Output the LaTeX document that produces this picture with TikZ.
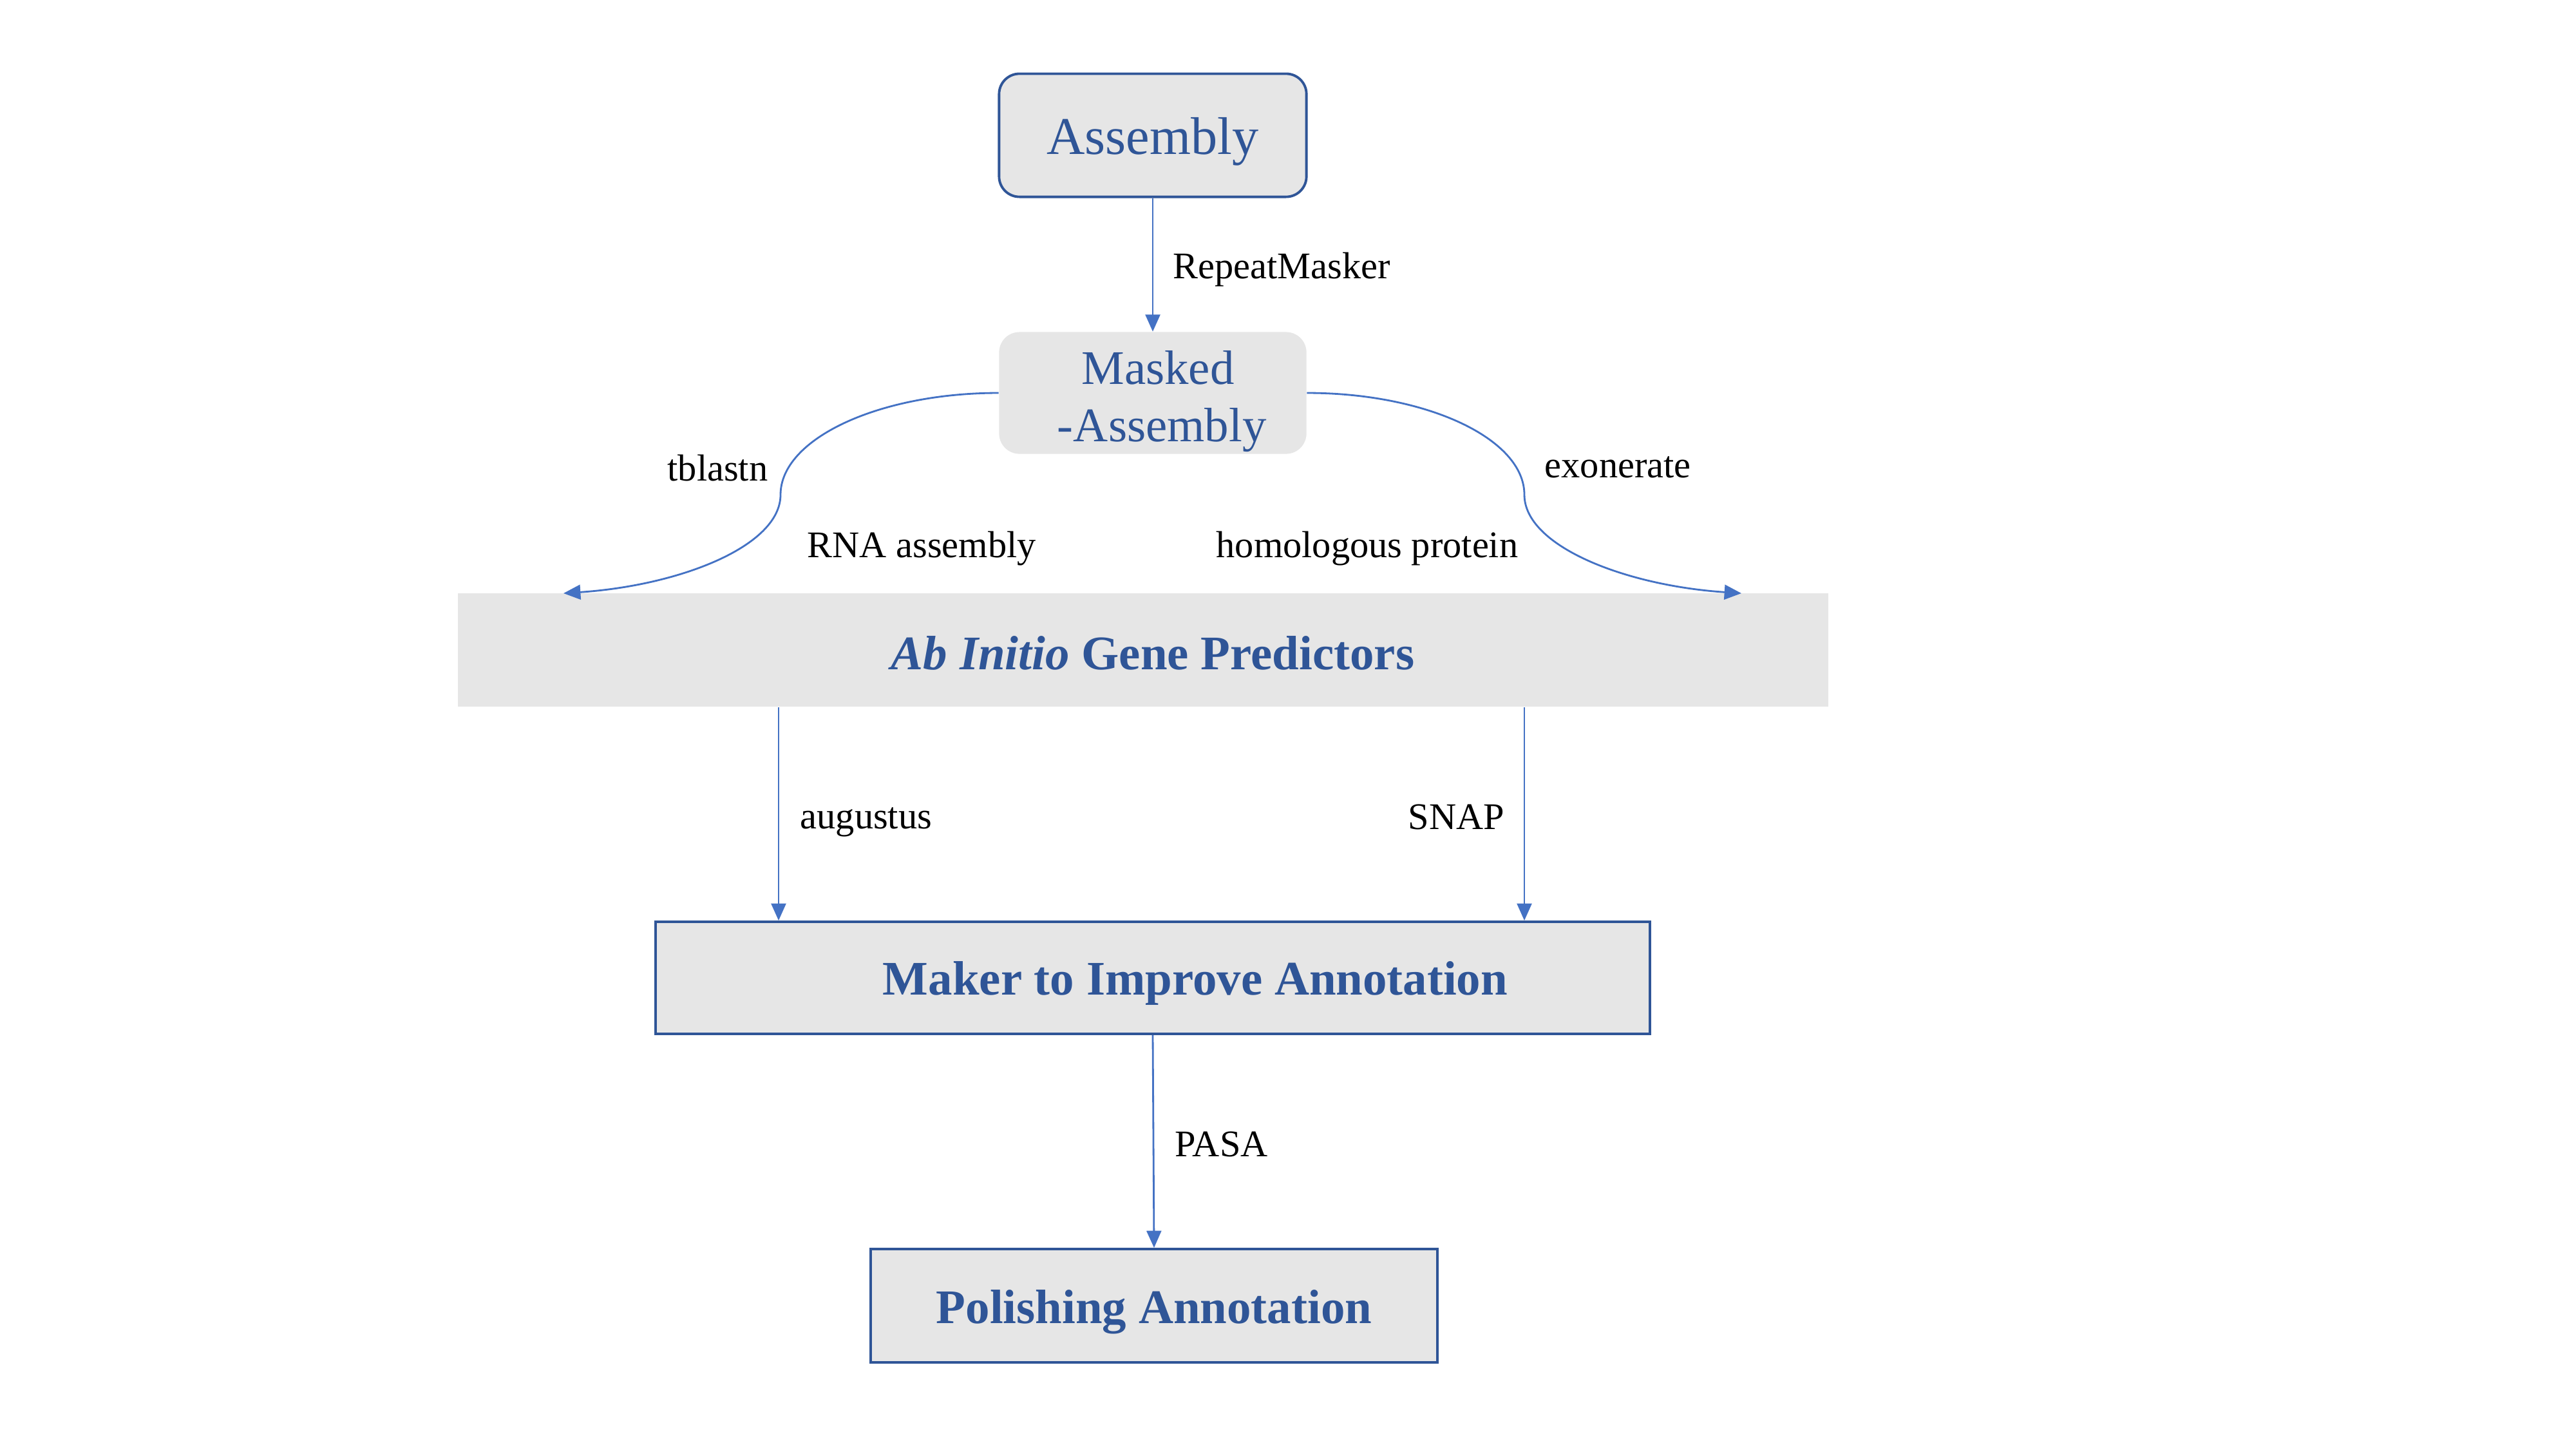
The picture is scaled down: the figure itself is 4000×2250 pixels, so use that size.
\documentclass[tikz,border=0pt]{standalone}
\usepackage{fontspec}
\setmainfont{Liberation Serif}
\usetikzlibrary{arrows.meta}
\definecolor{txtblue}{HTML}{2F5597}
\definecolor{lnblue}{HTML}{4472C4}
\definecolor{boxgray}{HTML}{E6E6E6}
\newcommand\lowtext[2]{\raisebox{0pt}[\dimexpr\height+#1\relax][\depth]{#2}}
\newcommand\lowtextd[2]{\raisebox{0pt}[\height][\dimexpr\depth-#1\relax]{#2}}
\begin{document}
\begin{tikzpicture}[x=0.01cm,y=-0.01cm,
  box/.style={fill=boxgray, text=txtblue, inner sep=0pt, align=center},
  framed/.style={box, draw=txtblue, line width=1.1pt},
  conn/.style={draw=lnblue, line width=0.8pt, -{Triangle[length=7.5pt,width=6.5pt]}},
  lbl/.style={font=\fontsize{16.6}{20}\selectfont, inner sep=0pt, anchor=west}]
\useasboundingbox (0,0) rectangle (4000,2250);

\node[framed, rounded corners=9pt, minimum width=4.77cm, minimum height=1.91cm,
      font=\fontsize{23.4}{28}\selectfont] (asm) at (1790,210) {\lowtext{0.2cm}{Assembly}};
\node[box, rounded corners=9pt, minimum width=4.77cm, minimum height=1.89cm,
      font=\fontsize{21.3}{25.4}\selectfont] (mask) at (1790,610)
      {\lowtextd{0.26cm}{\begin{tabular}{@{}c@{}}\hspace*{0.16cm}Masked\\\hspace*{0.16cm}\,-Assembly\end{tabular}}};
\node[box, minimum width=21.27cm, minimum height=1.76cm,
      font=\fontsize{21.3}{25.4}\selectfont\bfseries] (abi) at (1775,1009)
      {\lowtext{0.1cm}{\hspace*{0.3cm}\textit{Ab Initio} Gene Predictors}};
\node[framed, minimum width=15.43cm, minimum height=1.74cm,
      font=\fontsize{21.3}{25.4}\selectfont\bfseries] (mak) at (1790,1518)
      {\lowtext{0.16cm}{\hspace*{1.32cm}Maker to Improve Annotation}};
\node[framed, minimum width=8.8cm, minimum height=1.76cm,
      font=\fontsize{21.3}{25.4}\selectfont\bfseries] (pol) at (1792,2027)
      {\lowtext{0.2cm}{Polishing Annotation}};

\coordinate (lmid) at (1212,768);
\coordinate (lend) at (875,921);
\coordinate (rmid) at (2367,768);
\coordinate (rend) at (2704,921);
\coordinate (xa) at (1209,0);
\coordinate (xs) at (2367,0);

\draw[conn] (asm.south) -- (mask.north);
\draw[conn] (mask.west) .. controls +(-186,0) and +(0,-87) .. (lmid)
                        .. controls +(0,80) and +(180,-12) .. (lend);
\draw[conn] (mask.east) .. controls +(186,0) and +(0,-87) .. (rmid)
                        .. controls +(0,80) and +(-180,-12) .. (rend);
\draw[conn] (abi.south -| xa) -- (mak.north -| xa);
\draw[conn] (abi.south -| xs) -- (mak.north -| xs);
\draw[conn] (mak.south) -- (pol.north);

\node[lbl] (l1) at (1821,418) {RepeatMasker};
\node[lbl] (l2) at (1036,727) {tblastn};
\node[lbl] (l3) at (1253,852) {RNA assembly};
\node[lbl] (l4) at (1888,852) {homologous protein};
\node[lbl] (l5) at (2398,725) {exonerate};
\node[lbl] (l6) at (1242,1276) {augustus};
\node[lbl] (l7) at (2186,1268) {SNAP};
\node[lbl] (l8) at (1824,1776) {PASA};
\end{tikzpicture}
\end{document}
